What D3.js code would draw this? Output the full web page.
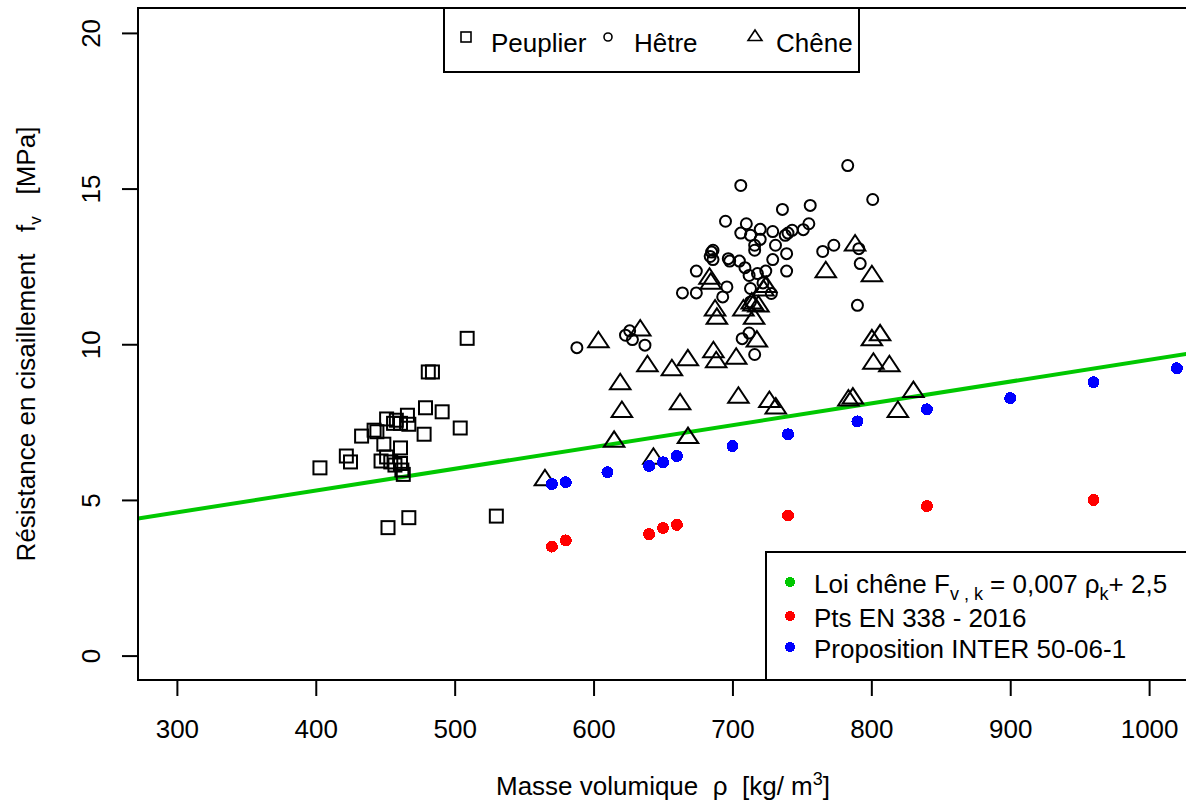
<!DOCTYPE html>
<html><head><meta charset="utf-8">
<script src="https://cdn.jsdelivr.net/npm/d3@7"></script>
<style>
body{margin:0;background:#fff;}
svg text{font-family:"Liberation Sans",Arial,sans-serif;fill:#000;}
</style></head><body>
<svg id="c" width="1186" height="805"></svg>
<script>
// ---- data ----
const xTicks = [300,400,500,600,700,800,900,1000];
const yTicks = [0,5,10,15,20];

const peuplierX = [403,422,425,433,442,444,447,449,451,451,452,454,456,457,458,461,461,461,462,463,466,467,467,478,479,481,484,491,504,509,530];
const peuplierY = [6.03,6.41,6.22,7.05,7.24,7.19,6.25,6.79,7.60,6.38,4.11,6.22,7.46,6.12,7.56,6.67,7.46,6.17,5.96,5.82,7.72,7.43,4.43,7.11,7.96,9.11,9.11,7.83,7.31,10.19,4.48];

const hetreX = [588,623,626,628,637,706,736,756,801,695,710,706,713,720,720,729,716,716,731,738,740,743,751,755,739,729,739,765,773,791,792,790,685,686,684,686,697,698,705,709,712,718,724,722,674,664,674,696,693,713,728,713,712,707,716,783];
const hetreY = [9.89,10.29,10.43,10.15,9.97,15.10,14.33,14.46,14.65,13.95,13.87,13.57,13.50,13.69,13.37,13.62,13.18,13.02,13.18,13.50,13.57,13.66,13.68,13.87,12.91,12.72,12.35,12.98,13.18,13.07,12.59,11.25,12.96,13.02,12.82,12.72,12.75,12.67,12.67,12.46,12.21,12.27,12.35,11.97,12.35,11.65,11.65,11.84,11.52,11.79,11.63,11.36,10.36,10.18,9.67,15.74];

const cheneX = [565,603.5,614.8,619.2,620.4,633.6,638.8,643.1,656.4,662.3,667.9,668,683.5,684.4,686.3,687.5,688.3,688.8,702.7,704.3,707.9,713.9,715.1,715.6,717.6,718.7,722.3,724.3,726.6,731.2,767.2,783.5,786.7,788.3,800.4,800.4,801.5,806.3,813,819.1,830.3];
const cheneY = [5.64,10.07,6.87,8.72,7.83,10.45,9.30,6.33,9.17,8.08,9.49,6.99,12.11,11.95,9.75,11.09,9.43,10.82,9.54,8.29,11.09,11.31,11.25,10.82,10.09,11.22,11.73,11.84,8.15,7.94,12.32,8.20,8.26,13.18,12.19,10.13,9.38,10.29,9.30,7.83,8.47];

const enX = [570,580,640,650,660,740,840,960];
const enY = [3.5,3.7,3.9,4.1,4.2,4.5,4.8,5.0];

const interX = [570,580,610,640,650,660,700,740,790,840,900,960,1020];
const interY = [5.51,5.57,5.89,6.09,6.21,6.41,6.73,7.11,7.52,7.91,8.27,8.78,9.23];

const lawSlope = 0.007, lawIntercept = 2.5;
const xDomain = [272,1028], yDomain = [-0.8,20.8];

// ---- drawing ----
const svg = d3.select("#c");
const L=138, R=1188, T=8, B=680;
const x = d3.scaleLinear().domain(xDomain).range([L,R]);
const y = d3.scaleLinear().domain(yDomain).range([B+0.5,T]);

svg.append("defs").append("clipPath").attr("id","clip")
  .append("rect").attr("x",L).attr("y",T).attr("width",R-L).attr("height",B-T);

const plot = svg.append("g").attr("clip-path","url(#clip)");

// law line
plot.append("line")
  .attr("x1",x(xDomain[0])).attr("y1",y(lawSlope*xDomain[0]+lawIntercept))
  .attr("x2",x(xDomain[1])).attr("y2",y(lawSlope*xDomain[1]+lawIntercept))
  .attr("stroke","#00C800").attr("stroke-width",4);

const sw = 2;
// squares
plot.selectAll(".sq").data(peuplierX.map((v,i)=>[v,peuplierY[i]])).enter()
  .append("rect").attr("x",d=>x(d[0])-6.5).attr("y",d=>y(d[1])-6.5)
  .attr("width",13).attr("height",13).attr("fill","none").attr("stroke","#000").attr("stroke-width",sw);
// circles
plot.selectAll(".ci").data(hetreX.map((v,i)=>[v,hetreY[i]])).enter()
  .append("circle").attr("cx",d=>x(d[0])).attr("cy",d=>y(d[1])).attr("r",5.5)
  .attr("fill","none").attr("stroke","#000").attr("stroke-width",sw);
// triangles
const tri = (r)=>`M0,${-r}L${0.866*r*1.15},${r/2}L${-0.866*r*1.15},${r/2}Z`;
plot.selectAll(".tr").data(cheneX.map((v,i)=>[v,cheneY[i]])).enter()
  .append("path").attr("d",tri(10.3)).attr("transform",d=>`translate(${x(d[0])},${y(d[1])})`)
  .attr("fill","none").attr("stroke","#000").attr("stroke-width",sw).attr("stroke-linejoin","miter");
// EN points
plot.selectAll(".en").data(enX.map((v,i)=>[v,enY[i]])).enter()
  .append("circle").attr("cx",d=>x(d[0])).attr("cy",d=>y(d[1])).attr("r",6)
  .attr("fill","#FF0000").attr("shape-rendering","crispEdges");
// INTER points
plot.selectAll(".in").data(interX.map((v,i)=>[v,interY[i]])).enter()
  .append("circle").attr("cx",d=>x(d[0])).attr("cy",d=>y(d[1])).attr("r",6)
  .attr("fill","#0000FF").attr("shape-rendering","crispEdges");

// axes
const fs = 26;
const ax = svg.append("g").attr("transform",`translate(0,${B})`)
  .call(d3.axisBottom(x).tickValues(xTicks).tickSize(16).tickFormat(d3.format("d")));
ax.select(".domain").remove();
ax.selectAll(".tick line").attr("stroke","#000").attr("stroke-width",2);
ax.selectAll("text").attr("y",58).attr("dy",0).style("font-size",fs+"px").attr("font-family",null);

const ay = svg.append("g").attr("transform",`translate(${L},0)`)
  .call(d3.axisLeft(y).tickValues(yTicks).tickSize(16).tickFormat(d3.format("d")));
ay.select(".domain").remove();
ay.selectAll(".tick line").attr("stroke","#000").attr("stroke-width",2);
ay.selectAll("text").attr("x",0).attr("y",-38).attr("dy",0)
  .attr("transform","rotate(-90)").attr("text-anchor","middle").style("font-size",fs+"px").attr("font-family",null);

// box
svg.append("rect").attr("x",L).attr("y",T).attr("width",R-L).attr("height",B-T)
  .attr("fill","none").attr("stroke","#000").attr("stroke-width",2);

// axis titles
const xt = svg.append("text").attr("x",(L+R)/2).attr("y",795).attr("text-anchor","middle").style("font-size",fs+"px").style("white-space","pre");
xt.append("tspan").text("Masse volumique  ρ  [kg/ m");
xt.append("tspan").text("3").attr("dy",-10).style("font-size","18px");
xt.append("tspan").text("]").attr("dy",10);

const yt = svg.append("text").attr("transform",`translate(35,${(T+B)/2}) rotate(-90)`).attr("text-anchor","middle").style("font-size",fs+"px").style("white-space","pre");
yt.append("tspan").text("Résistance en cisaillement   f");
yt.append("tspan").text("v").attr("dy",6).style("font-size","17px");
yt.append("tspan").text("   [MPa]").attr("dy",-6);

// top legend
const lg = svg.append("g");
lg.append("rect").attr("x",444).attr("y",T).attr("width",415).attr("height",64)
  .attr("fill","#fff").attr("stroke","#000").attr("stroke-width",2);
const ly = 37;
lg.append("rect").attr("x",461).attr("y",ly-5).attr("width",10).attr("height",10).attr("fill","none").attr("stroke","#000").attr("stroke-width",1.6);
lg.append("circle").attr("cx",608).attr("cy",ly).attr("r",4).attr("fill","none").attr("stroke","#000").attr("stroke-width",1.6);
lg.append("path").attr("d",tri(7)).attr("transform",`translate(755,${ly})`).attr("fill","none").attr("stroke","#000").attr("stroke-width",1.6);
const names = [["Peuplier",491],["Hêtre",634],["Chêne",776]];
names.forEach(n=>lg.append("text").attr("x",n[1]).attr("y",52).style("font-size",fs+"px").text(n[0]));

// bottom-right legend
const lg2 = svg.append("g");
lg2.append("rect").attr("x",766).attr("y",552).attr("width",440).attr("height",B-552)
  .attr("fill","#fff").attr("stroke","#000").attr("stroke-width",2);
const legCols = ["#00C800","#FF0000","#0000FF"];
const legY = [582,616,647];
legCols.forEach((c,i)=>lg2.append("circle").attr("cx",790).attr("cy",legY[i]).attr("r",5).attr("fill",c).attr("shape-rendering","crispEdges"));
const t1 = lg2.append("text").attr("x",814).attr("y",593).style("font-size",fs+"px").style("white-space","pre");
t1.append("tspan").text("Loi chêne F");
t1.append("tspan").text("v , k").attr("dy",7).style("font-size","18px");
t1.append("tspan").text(" = 0,007 ρ").attr("dy",-7);
t1.append("tspan").text("k").attr("dy",7).style("font-size","18px");
t1.append("tspan").text("+ 2,5").attr("dy",-7);
lg2.append("text").attr("x",814).attr("y",627).style("font-size",fs+"px").text("Pts EN 338 - 2016");
lg2.append("text").attr("x",814).attr("y",658).style("font-size",fs+"px").text("Proposition INTER 50-06-1");
</script></body></html>
